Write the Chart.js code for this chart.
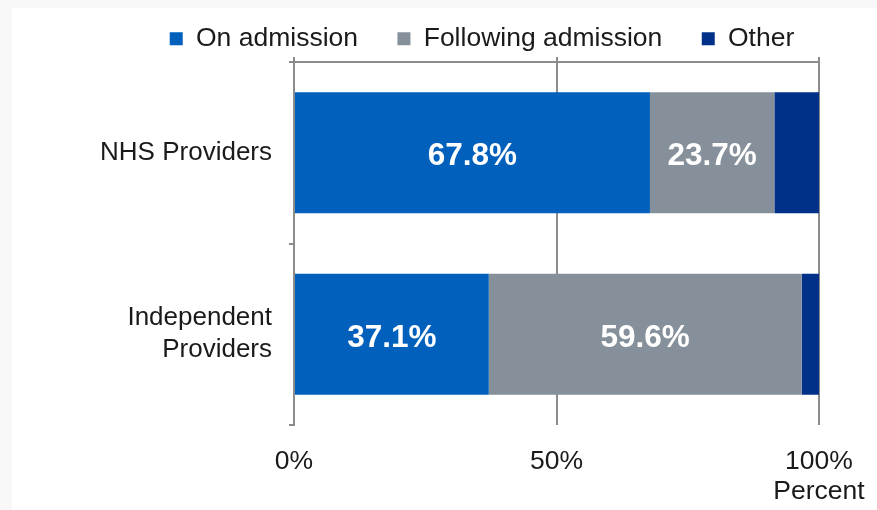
<!DOCTYPE html>
<html>
<head>
<meta charset="utf-8">
<script src="https://cdn.jsdelivr.net/npm/chart.js@4.4.1/dist/chart.umd.min.js"></script>
<style>
  html, body { margin: 0; padding: 0; background: #f8f8f8; width: 877px; height: 510px; overflow: hidden; }
  #wrap { position: absolute; left: 12px; top: 8px; width: 865px; height: 502px; background: #ffffff; }
  canvas { display: block; }
</style>
</head>
<body>
<div id="wrap"><canvas id="c" width="865" height="502"></canvas></div>
<script>
// ---- data ----
const categories = ['NHS Providers', ['Independent', 'Providers']];
const seriesNames = ['On admission', 'Following admission', 'Other'];
const onAdmission = [67.8, 37.1];
const followingAdmission = [23.7, 59.6];
const other = [8.5, 3.3];
const xTickLabels = ['0%', '50%', '100%'];
const xAxisTitle = 'Percent';
const showValueLabels = [true, true, false];

// ---- style ----
const colors = ['#0060BC', '#86909A', '#003087'];
const gridColor = '#8c8c8c';
const fontFamily = "'Liberation Sans', Arial, sans-serif";
const legendGaps = [4, 4, 2]; // extra spacing after each legend entry (in spaces)

const barLabels = {
  id: 'barLabels',
  afterDatasetsDraw(chart) {
    const ctx = chart.ctx;
    ctx.save();
    ctx.fillStyle = '#ffffff';
    ctx.font = 'bold 31.5px ' + fontFamily;
    ctx.textAlign = 'center';
    ctx.textBaseline = 'middle';
    chart.data.datasets.forEach((ds, i) => {
      if (!showValueLabels[i]) return;
      chart.getDatasetMeta(i).data.forEach((el, j) => {
        const p = el.getCenterPoint();
        ctx.fillText(ds.data[j].toFixed(1) + '%', p.x, p.y + 4);
      });
    });
    ctx.restore();
  }
};

const seriesData = [onAdmission, followingAdmission, other];

new Chart(document.getElementById('c'), {
  type: 'bar',
  data: {
    labels: categories,
    datasets: seriesNames.map((n, i) => ({
      label: n,
      data: seriesData[i],
      backgroundColor: colors[i],
      borderWidth: 0,
      categoryPercentage: 1.0,
      barPercentage: 0.667
    }))
  },
  options: {
    indexAxis: 'y',
    responsive: false,
    animation: false,
    layout: { padding: { left: 0, right: 58, top: 7.5, bottom: 5 } },
    plugins: {
      tooltip: { enabled: false },
      legend: {
        position: 'top',
        align: 'end',
        labels: {
          color: '#1a1a1a',
          font: { family: fontFamily, size: 26.5 },
          boxWidth: 13,
          boxHeight: 13,
          padding: 10,
          generateLabels(chart) {
            const items = Chart.defaults.plugins.legend.labels.generateLabels(chart);
            items.forEach((it, i) => { it.text = it.text + '\u00a0'.repeat(legendGaps[i]); it.lineWidth = 0; });
            return items;
          }
        }
      }
    },
    scales: {
      x: {
        stacked: true,
        min: 0,
        max: 100,
        position: 'bottom',
        ticks: {
          stepSize: 50,
          padding: 22.5,
          color: '#1a1a1a',
          font: { family: fontFamily, size: 26.5, lineHeight: 1.1 },
          callback(v, idx, ticks) {
            const lbl = xTickLabels[idx];
            return idx === ticks.length - 1 ? [lbl, xAxisTitle] : lbl;
          }
        },
        grid: { color: gridColor, lineWidth: 2, drawTicks: false },
        border: { display: false },
        afterFit(s) { s.height = 80; s.paddingLeft = 0; s.paddingRight = 0; }
      },
      x2: {
        type: 'linear',
        position: 'top',
        min: 0,
        max: 100,
        ticks: { display: false, stepSize: 50 },
        grid: { drawOnChartArea: false, drawTicks: true, tickLength: 5, color: gridColor, lineWidth: 2 },
        border: { display: true, color: gridColor, width: 2 },
        afterFit(s) { s.height = 0; s.paddingLeft = 0; s.paddingRight = 0; }
      },
      y: {
        stacked: true,
        ticks: {
          padding: 17,
          color: '#1a1a1a',
          crossAlign: 'near',
          font: { family: fontFamily, size: 26, lineHeight: 1.23 }
        },
        grid: { offset: true, drawOnChartArea: false, tickLength: 5, color: gridColor, lineWidth: 2 },
        border: { display: true, color: gridColor, width: 2 },
        afterFit(s) { s.width = 282; s.paddingTop = 0; s.paddingBottom = 0; }
      }
    }
  },
  plugins: [barLabels]
});
</script>
</body>
</html>
